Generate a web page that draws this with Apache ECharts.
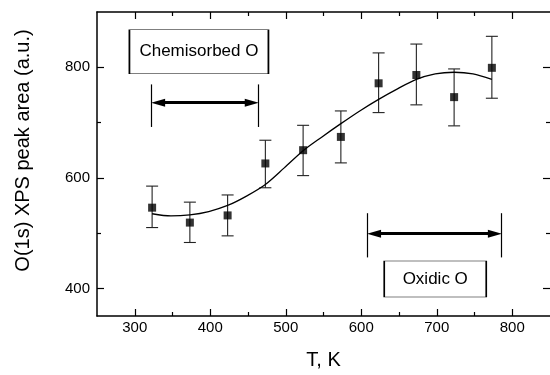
<!DOCTYPE html>
<html>
<head>
<meta charset="utf-8">
<script src="https://cdn.jsdelivr.net/npm/echarts@6/dist/echarts.min.js"></script>
<style>
  html, body { margin: 0; padding: 0; background: #fff; }
  #box { width: 550px; height: 375px; }
</style>
</head>
<body>
<div id="box"></div>
<script>
// measured points, K
var temps  = [323, 373, 423, 473, 523, 573, 623, 673, 723, 773];
var values = [546, 519, 532, 626, 650, 674, 771, 786, 746, 799];
var upper  = [585, 556, 569, 668, 695, 721, 826, 842, 797, 856];
var lower  = [510, 483, 495, 582, 604, 627, 718, 732, 694, 744];

// fitted curve
var fitT = [323, 348, 373, 398, 423, 448, 473, 498, 523, 548, 573, 598, 623, 648, 673, 698, 723, 748, 773];
var fitV = [535, 531, 533, 539, 550, 567, 588, 618, 649, 674, 698, 721, 742, 761, 778, 788, 791, 788, 778];

// ticks
var xMajor = [300, 400, 500, 600, 700, 800];
var xMinor = [350, 450, 550, 650, 750];
var yMajor = [400, 600, 800];
var yMinor = [500, 700];

// annotations (data coords)
var chemSpan = [322, 464], chemY = 736, chemBar = [692, 769];
var oxSpan = [608, 786], oxY = 499, oxBar = [456, 536];
var chemBox = [385, 828], oxBox = [698, 417];

var chart = echarts.init(document.getElementById('box'));

var font = 'Liberation Sans, Arial, sans-serif';
var axisLine = { show: true, lineStyle: { color: '#000', width: 1.5 } };
var headLen = 14;
var headShift = 9; // half arrow head, in K

function xAx(pos, ticks, len, main) {
	return {
		type: 'value', position: pos, min: 250, max: 850,
		axisLine: main ? axisLine : { show: false },
		axisTick: { show: true, inside: true, length: len, customValues: ticks, lineStyle: { color: '#000', width: 1.2 } },
		axisLabel: { show: false },
		splitLine: { show: false }
	};
}
function yAx(pos, ticks, len, main) {
	return {
		type: 'value', position: pos, min: 350, max: 900,
		axisLine: main ? axisLine : { show: false },
		axisTick: { show: true, inside: true, length: len, customValues: ticks, lineStyle: { color: '#000', width: 1.2 } },
		axisLabel: { show: false },
		splitLine: { show: false }
	};
}

var xb = xAx('bottom', xMajor, 7, true);
xb.axisLabel = { show: true, customValues: xMajor, color: '#000', fontSize: 15, fontFamily: font, margin: 4 };
xb.name = 'T, K';
xb.nameLocation = 'middle';
xb.nameGap = 34;
xb.nameTextStyle = { color: '#000', fontSize: 20, fontFamily: font };

var yl = yAx('left', yMajor, 7, true);
yl.axisLabel = { show: true, customValues: yMajor, color: '#000', fontSize: 15, fontFamily: font, margin: 7 };
yl.name = 'O(1s) XPS peak area (a.u.)';
yl.nameLocation = 'middle';
yl.nameGap = 64;
yl.nameTextStyle = { color: '#000', fontSize: 20, fontFamily: font, padding: [0, 0, 0, 27] };

var errData = temps.map(function (t, i) { return [t, lower[i], upper[i]]; });
var ptData = temps.map(function (t, i) { return [t, values[i]]; });
var fitData = fitT.map(function (t, i) { return [t, fitV[i]]; });

function bar(x, ys) {
	return [{ coord: [x, ys[0]], symbol: 'none' }, { coord: [x, ys[1]], symbol: 'none' }];
}
function arrow(span, y) {
	return [
		{ coord: [span[0] + headShift, y], symbol: 'triangle', lineStyle: { width: 3 } },
		{ coord: [span[1] - headShift, y], symbol: 'triangle' }
	];
}

var boxLabel = { show: true, position: 'inside', color: '#000', fontSize: 17, fontFamily: font };

var option = {
	animation: false,
	backgroundColor: '#fff',
	grid: { left: 97, right: -3, top: 12, bottom: 57 },
	xAxis: [xb, xAx('bottom', xMinor, 4, false), xAx('top', xMajor, 7, true), xAx('top', xMinor, 4, false)],
	yAxis: [yl, yAx('left', yMinor, 4, false), yAx('right', yMajor, 7, false), yAx('right', yMinor, 4, false)],
	series: [
		{
			name: 'fit',
			type: 'line',
			data: fitData,
			smooth: 0.3,
			showSymbol: false,
			lineStyle: { color: '#000', width: 1.3 },
			silent: true
		},
		{
			name: 'err',
			type: 'custom',
			data: errData,
			renderItem: function (params, api) {
				var lo = api.coord([api.value(0), api.value(1)]);
				var hi = api.coord([api.value(0), api.value(2)]);
				var w = 6;
				var st = { stroke: '#222', lineWidth: 1.1 };
				return {
					type: 'group',
					children: [
						{ type: 'line', shape: { x1: lo[0], y1: lo[1], x2: hi[0], y2: hi[1] }, style: st },
						{ type: 'line', shape: { x1: lo[0] - w, y1: lo[1], x2: lo[0] + w, y2: lo[1] }, style: st },
						{ type: 'line', shape: { x1: hi[0] - w, y1: hi[1], x2: hi[0] + w, y2: hi[1] }, style: st }
					]
				};
			}
		},
		{
			name: 'data',
			type: 'scatter',
			data: ptData,
			symbol: 'rect',
			symbolSize: 8,
			itemStyle: { color: '#000' },
			z: 5,
			markLine: {
				silent: true,
				animation: false,
				symbolSize: [8, headLen],
				label: { show: false },
				lineStyle: { color: '#000', width: 1.2, type: 'solid' },
				data: [
					bar(chemSpan[0], chemBar), bar(chemSpan[1], chemBar),
					bar(oxSpan[0], oxBar), bar(oxSpan[1], oxBar),
					arrow(chemSpan, chemY), arrow(oxSpan, oxY)
				]
			},
			markPoint: {
				silent: true,
				animation: false,
				symbol: 'rect',
				itemStyle: { color: '#fff', borderColor: '#000', borderWidth: 1 },
				data: [
					{ coord: chemBox, symbolSize: [139, 44], label: Object.assign({ formatter: 'Chemisorbed O' }, boxLabel) },
					{ coord: oxBox, symbolSize: [102, 36], label: Object.assign({ formatter: 'Oxidic O' }, boxLabel) }
				]
			}
		}
	]
};

chart.setOption(option);
</script>
</body>
</html>
